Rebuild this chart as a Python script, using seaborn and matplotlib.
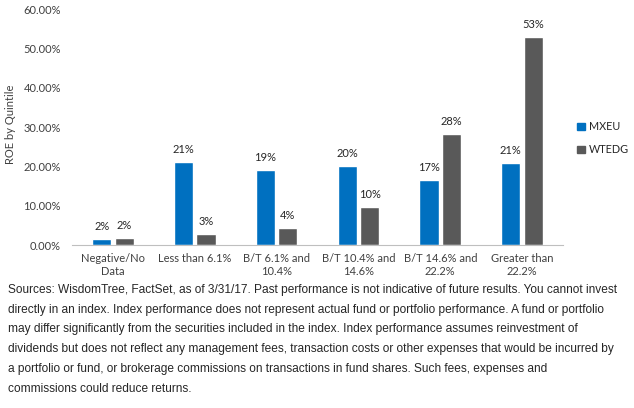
import matplotlib
matplotlib.use("Agg")
import matplotlib.pyplot as plt
import seaborn as sns
import pandas as pd

# Data
categories = ["Negative/No\nData", "Less than 6.1%", "B/T 6.1% and\n10.4%",
              "B/T 10.4% and\n14.6%", "B/T 14.6% and\n22.2%", "Greater than\n22.2%"]
mxeu = [1.6, 21.1, 19.1, 20.2, 16.6, 20.9]
wtedg = [1.9, 2.8, 4.3, 9.6, 28.2, 52.9]
series = ["MXEU", "WTEDG"]
colors = ["#0070C0", "#595959"]

caption_lines = [
    "Sources: WisdomTree, FactSet, as of 3/31/17. Past performance is not indicative of future results. You cannot invest",
    "directly in an index. Index performance does not represent actual fund or portfolio performance. A fund or portfolio",
    "may differ significantly from the securities included in the index. Index performance assumes reinvestment of",
    "dividends but does not reflect any management fees, transaction costs or other expenses that would be incurred by",
    "a portfolio or fund, or brokerage commissions on transactions in fund shares. Such fees, expenses and",
    "commissions could reduce returns.",
]

df = pd.DataFrame({
    "category": categories * 2,
    "series": [series[0]] * len(categories) + [series[1]] * len(categories),
    "value": mxeu + wtedg,
})

sns.set_style("white")
plt.rcParams['font.family'] = ['Lato', 'DejaVu Sans']

fig = plt.figure(figsize=(6.34, 4.08), dpi=100)
ax = fig.add_axes([72 / 634, 1 - 245 / 408, (563 - 72) / 634, (245 - 9) / 408])

sns.barplot(data=df, x="category", y="value", hue="series", palette=colors,
            width=0.55, gap=0.15, ax=ax, legend=False, saturation=1)

for container, vals in zip(ax.containers, [mxeu, wtedg]):
    ax.bar_label(container, labels=[f"{round(v):.0f}%" for v in vals],
                 padding=5, fontsize=8, color="#262626")

ax.set_ylim(0, 60)
ax.set_yticks(range(0, 61, 10))
ax.set_yticklabels([f"{t:.2f}%" for t in range(0, 61, 10)], fontsize=8, color="#404040")
ax.tick_params(axis="x", labelsize=8, colors="#404040", length=0, pad=6)
ax.tick_params(axis="y", length=0, pad=8)
ax.set_xlabel("")
ax.set_ylabel("")
fig.text(11 / 634, 1 - 124 / 408, "ROE by Quintile", rotation=90, fontsize=8,
         color="#404040", ha="center", va="center")
for s in ["top", "right", "left"]:
    ax.spines[s].set_visible(False)
ax.spines["bottom"].set_color("#BFBFBF")
ax.set_xlim(-0.5, len(categories) - 0.5)

# legend
handles = [plt.Rectangle((0, 0), 1, 1, color=c) for c in colors]
fig.legend(handles, series, loc="upper left", bbox_to_anchor=(573 / 634, 1 - 117 / 408),
           frameon=False, fontsize=7.8, handlelength=0.7, handleheight=0.7,
           handletextpad=0.4, labelspacing=1.1, borderaxespad=0)

y0 = 1 - 290 / 408
for i, line in enumerate(caption_lines):
    fig.text(8 / 634, y0 - i * (19.7 / 408), line, fontsize=8.6,
             family=['Liberation Sans', 'DejaVu Sans'], color="#262626", va="center")

fig.savefig("out.png", dpi=100)
